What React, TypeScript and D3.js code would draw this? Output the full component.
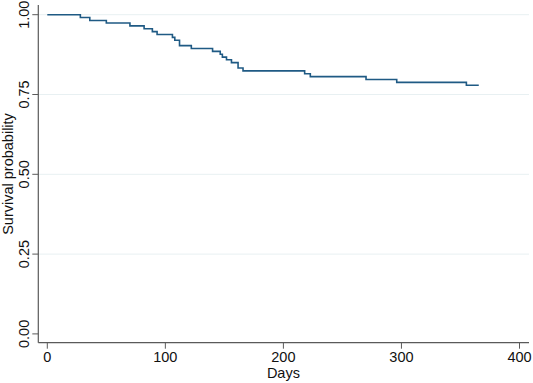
import React from "react";
import * as d3 from "d3";

const stepDays = [0, 28, 36, 50, 70, 82, 89, 93, 106, 108, 112, 122, 140, 146.5, 148.3, 151.8, 156, 161.6, 165.8, 218, 222.8, 270, 296, 355];
const survival = [1.0, 0.991, 0.982, 0.974, 0.965, 0.956, 0.947, 0.938, 0.929, 0.920, 0.903, 0.894, 0.885, 0.876, 0.867, 0.859, 0.850, 0.833, 0.824, 0.815, 0.806, 0.797, 0.788, 0.779];
const lastDay = 365.5;
const xTicks = [0, 100, 200, 300, 400];
const yTicks = [0, 0.25, 0.5, 0.75, 1.0];
const yGrid = [0.25, 0.5, 0.75, 1.0];

const W = 533;
const H = 383;
const axisX = 38.3;
const axisY = 342.7;
const plotRight = 529;
const plotTop = 5;

export default function App() {
  const x = d3.scaleLinear().domain([0, 400]).range([47.3, 519.5]);
  const y = d3.scaleLinear().domain([0, 1]).range([333.9, 14.7]);
  const pts: [number, number][] = stepDays.map((d, i) => [d, survival[i]]);
  pts.push([lastDay, survival[survival.length - 1]]);
  const line = d3
    .line<[number, number]>()
    .x((d) => x(d[0]))
    .y((d) => y(d[1]))
    .curve(d3.curveStepAfter);
  const font = "Liberation Sans, Arial, sans-serif";
  const fs = 14.5;
  return (
    <svg
      width={W}
      height={H}
      style={{ position: "absolute", left: 0, top: 0, background: "#fff" }}
      fontFamily={font}
    >
      <rect x={0} y={0} width={W} height={H} fill="#fff" />
      {yGrid.map((t) => (
        <line key={"g" + t} x1={axisX} x2={plotRight} y1={y(t)} y2={y(t)} stroke="#e8f0f2" strokeWidth={1} />
      ))}
      <path d={line(pts) || ""} fill="none" stroke="#1f5a84" strokeWidth={1.6} />
      <line x1={axisX} x2={axisX} y1={plotTop} y2={axisY} stroke="#5a5a5a" strokeWidth={1.2} />
      <line x1={axisX} x2={plotRight} y1={axisY} y2={axisY} stroke="#5a5a5a" strokeWidth={1.2} />
      {yTicks.map((t) => (
        <g key={"y" + t}>
          <line x1={axisX - 6} x2={axisX} y1={y(t)} y2={y(t)} stroke="#5a5a5a" strokeWidth={1} />
          <text
            transform={`translate(28.5,${y(t)}) rotate(-90)`}
            textAnchor="middle"
            fontSize={fs}
            fill="#111"
          >
            {t.toFixed(2)}
          </text>
        </g>
      ))}
      {xTicks.map((t) => (
        <g key={"x" + t}>
          <line x1={x(t)} x2={x(t)} y1={axisY} y2={axisY + 6} stroke="#5a5a5a" strokeWidth={1} />
          <text x={x(t)} y={362} textAnchor="middle" fontSize={fs} fill="#111">
            {t}
          </text>
        </g>
      ))}
      <text x={x(200)} y={378} textAnchor="middle" fontSize={fs} fill="#111">
        Days
      </text>
      <text transform={`translate(12.5,174) rotate(-90)`} textAnchor="middle" fontSize={fs} fill="#111">
        Survival probability
      </text>
    </svg>
  );
}
